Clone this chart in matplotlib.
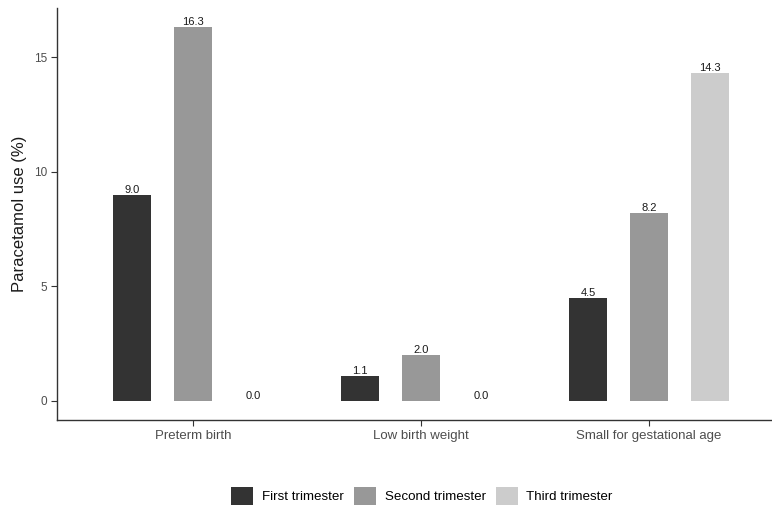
import matplotlib
matplotlib.use("Agg")
import matplotlib.pyplot as plt
from matplotlib.patches import Patch
import numpy as np

categories = ["Preterm birth", "Low birth weight", "Small for gestational age"]
series_names = ["First trimester", "Second trimester", "Third trimester"]
first_tri = [9.0, 1.1, 4.5]
second_tri = [16.3, 2.0, 8.2]
third_tri = [0.0, 0.0, 14.3]
colors = ["#333333", "#989898", "#CCCCCC"]

plt.rcParams['font.family'] = ['Liberation Sans', 'DejaVu Sans']

W, H = 772, 508
fig = plt.figure(figsize=(W / 100, H / 100), dpi=100)
ax = fig.add_axes([57 / W, (H - 420) / H, (W - 57) / W, 412 / H])

x = np.arange(1, len(categories) + 1)
dodge = 0.8 / 3
bw = 0.5 / 3
all_series = [first_tri, second_tri, third_tri]
for i, (vals, c) in enumerate(zip(all_series, colors)):
    pos = x + (i - 1) * dodge
    ax.bar(pos, vals, width=bw, color=c, edgecolor='none')
    for px, v in zip(pos, vals):
        ax.text(px, v, f"{v:.1f}", ha='center', va='bottom', fontsize=8,
                color='#1A1A1A')

ax.set_xlim(0.404, 0.404 + 715 / 228)
ax.set_ylim(-0.83, 17.14)
ax.set_xticks(x)
ax.set_xticklabels(categories, fontsize=9.5, color='#4D4D4D')
ax.set_yticks([0, 5, 10, 15])
ax.set_yticklabels(['0', '5', '10', '15'], fontsize=8.5, color='#4D4D4D')
ax.tick_params(axis='both', length=4, width=0.8, color='#333333', pad=3)
for s in ['top', 'right']:
    ax.spines[s].set_visible(False)
for s in ['left', 'bottom']:
    ax.spines[s].set_color('#333333')
    ax.spines[s].set_linewidth(1.0)
ax.set_ylabel("Paracetamol use (%)", fontsize=12, color='#1A1A1A', labelpad=5)

handles = [Patch(facecolor=c, edgecolor='none', label=n) for c, n in zip(colors, series_names)]
fig.legend(handles=handles, loc='center', bbox_to_anchor=(422 / W, (H - 496) / H),
           ncol=3, frameon=False, fontsize=9.6, handlelength=1.65, handleheight=1.65,
           handletextpad=0.65, columnspacing=0.75, borderpad=0, borderaxespad=0)

fig.savefig("out.png", dpi=100)
